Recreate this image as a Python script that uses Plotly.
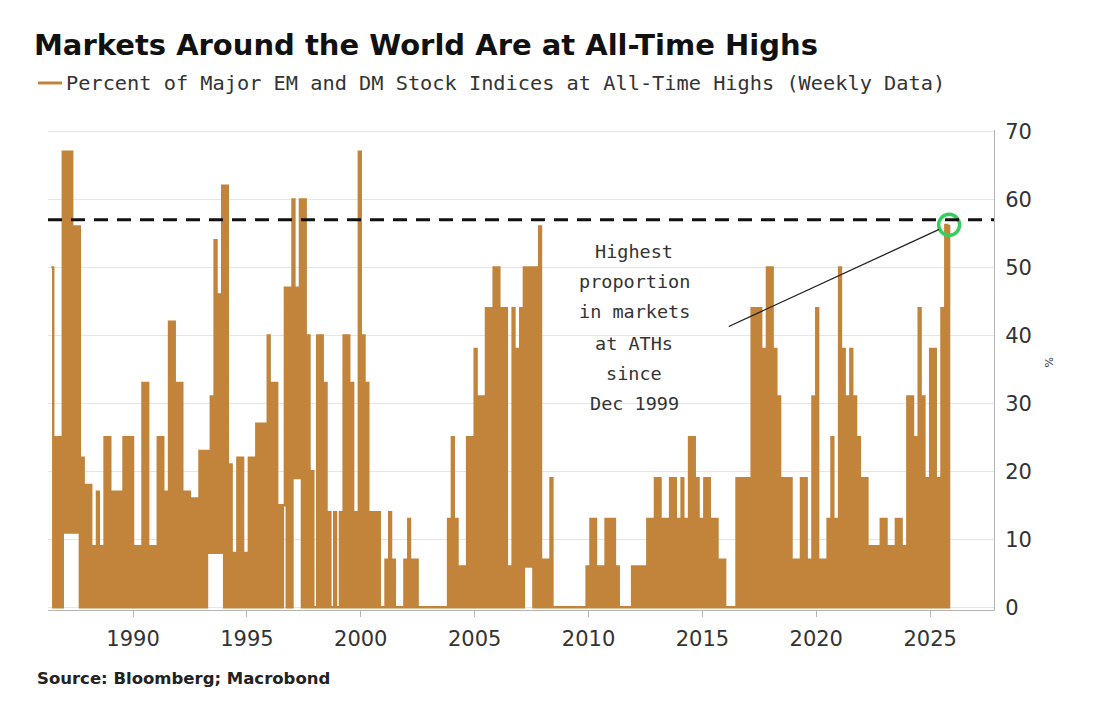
import datetime as dt
import plotly.graph_objects as go

# ---------------- data ----------------
first_year = 1986
first_month = 6  # the series starts in June 1986
# Percent of major EM and DM stock indices at all-time highs, one row per year (monthly samples)
pct_rows = [
    [50, 0, 25, 0, 25, 0, 67],                          # 1986 (Jun-Dec)
    [11, 67, 11, 67, 11, 56, 11, 56, 0, 22, 0, 18],     # 1987
    [0, 18, 0, 9, 0, 17, 0, 9, 0, 25, 0, 25],           # 1988
    [0, 17, 0, 17, 0, 17, 0, 25, 0, 25, 0, 25],         # 1989
    [0, 9, 0, 9, 0, 33, 0, 33, 0, 9, 0, 9],             # 1990
    [0, 25, 0, 25, 0, 17, 0, 42, 0, 42, 0, 33],         # 1991
    [0, 33, 0, 17, 0, 17, 0, 16, 0, 16, 0, 23],         # 1992
    [0, 23, 0, 23, 8, 31, 8, 54, 8, 46, 8, 62],         # 1993
    [0, 62, 0, 21, 0, 8, 0, 22, 0, 22, 0, 8],           # 1994
    [0, 22, 0, 22, 0, 27, 0, 27, 0, 27, 0, 40],         # 1995
    [0, 33, 0, 33, 0, 15, 0, 15, 47, 0, 47, 0],         # 1996
    [60, 19, 47, 19, 60, 0, 60, 0, 40, 0, 20, 0],       # 1997
    [0, 40, 0, 40, 0, 33, 0, 14, 0, 0, 14, 0],          # 1998
    [0, 14, 0, 40, 0, 40, 0, 33, 0, 14, 0, 67],         # 1999
    [0, 40, 0, 33, 0, 14, 0, 14, 0, 14, 0, 0],          # 2000
    [0, 7, 0, 14, 0, 7, 0, 0, 0, 0, 0, 7],              # 2001
    [0, 13, 0, 7, 0, 7, 0, 0, 0, 0, 0, 0],              # 2002
    [0, 0, 0, 0, 0, 0, 0, 0, 0, 0, 13, 0],              # 2003
    [25, 0, 13, 0, 6, 0, 6, 0, 25, 0, 25, 0],           # 2004
    [38, 0, 31, 0, 31, 0, 44, 0, 44, 0, 50, 0],         # 2005
    [50, 0, 44, 0, 44, 0, 6, 0, 44, 0, 38, 0],          # 2006
    [44, 0, 50, 6, 50, 6, 50, 0, 50, 0, 56, 0],         # 2007
    [7, 0, 7, 0, 19, 0, 0, 0, 0, 0, 0, 0],              # 2008
    [0, 0, 0, 0, 0, 0, 0, 0, 0, 0, 0, 6],               # 2009
    [0, 13, 0, 13, 0, 6, 0, 6, 0, 13, 0, 13],           # 2010
    [0, 13, 0, 6, 0, 0, 0, 0, 0, 0, 0, 6],              # 2011
    [0, 6, 0, 6, 0, 6, 0, 13, 0, 13, 0, 19],            # 2012
    [0, 19, 0, 13, 0, 13, 0, 19, 0, 19, 0, 13],         # 2013
    [0, 19, 0, 13, 0, 25, 0, 25, 0, 19, 0, 13],         # 2014
    [0, 19, 0, 19, 0, 13, 0, 13, 0, 7, 0, 7],           # 2015
    [0, 0, 0, 0, 0, 0, 19, 0, 19, 0, 19, 0],            # 2016
    [19, 0, 44, 0, 44, 0, 44, 0, 38, 0, 50, 0],         # 2017
    [50, 0, 38, 0, 31, 0, 19, 0, 19, 0, 19, 0],         # 2018
    [7, 0, 7, 0, 19, 0, 19, 0, 7, 0, 31, 0],            # 2019
    [44, 0, 7, 0, 7, 0, 13, 0, 25, 0, 13, 0],           # 2020
    [50, 0, 38, 0, 31, 0, 38, 0, 31, 0, 25, 0],         # 2021
    [19, 0, 19, 0, 9, 0, 9, 0, 9, 0, 13, 0],            # 2022
    [13, 0, 9, 0, 9, 0, 13, 0, 13, 0, 9, 0],            # 2023
    [31, 0, 31, 0, 25, 0, 44, 0, 31, 0, 19, 0],         # 2024
    [38, 0, 38, 0, 19, 0, 44, 0, 56.25, 0, 56.25],      # 2025 (Jan-Nov)
]
reference_level = 57          # dashed horizontal line
y_ticks = [0, 10, 20, 30, 40, 50, 60, 70]
x_tick_years = [1990, 1995, 2000, 2005, 2010, 2015, 2020, 2025]
note_lines = ["Highest", "proportion", "in markets", "at ATHs", "since", "Dec 1999"]

title_text = "Markets Around the World Are at All-Time Highs"
series_name = "Percent of Major EM and DM Stock Indices at All-Time Highs (Weekly Data)"
source_text = "Source: Bloomberg; Macrobond"

# ---------------- build ----------------
dates, values = [], []
for i, row in enumerate(pct_rows):
    yr = first_year + i
    m0 = first_month if i == 0 else 1
    for j, v in enumerate(row):
        dates.append(dt.date(yr, m0 + j, 1))
        values.append(v)

LINE = "#C2843A"
GREEN = "#35CF5E"
TXT = "#333333"
MONO = "DejaVu Sans Mono, Liberation Mono, monospace"
SANS = "DejaVu Sans, Verdana, sans-serif"

fig = go.Figure()
fig.add_trace(go.Scatter(
    x=dates, y=values, mode="lines", name=series_name,
    line=dict(color=LINE, width=2.4, shape="hv"),
    showlegend=False, hoverinfo="x+y",
))
fig.add_trace(go.Scatter(
    x=[dates[-1]], y=[values[-1]], mode="markers", showlegend=False,
    marker=dict(symbol="circle-open", size=21, color=GREEN, line=dict(color=GREEN, width=3.5)),
    cliponaxis=False,
))

fig.add_shape(type="line", xref="paper", x0=0, x1=1, yref="y",
              y0=reference_level, y1=reference_level,
              line=dict(color="#111111", width=3, dash="14px,9px"), layer="above")

# legend sample line (drawn like the source's legend key)
fig.add_shape(type="line", xref="paper", yref="paper", x0=-0.0106, x1=0.0148, y0=1.098, y1=1.098,
              line=dict(color=LINE, width=3))

annotations = [
    dict(text="<b>" + title_text + "</b>", xref="paper", yref="paper", x=-0.017, y=1.177,
         xanchor="left", yanchor="middle", showarrow=False,
         font=dict(family=SANS, size=29, color="#111111")),
    dict(text=series_name, xref="paper", yref="paper", x=0.0169, y=1.098,
         xanchor="left", yanchor="middle", showarrow=False,
         font=dict(family=MONO, size=20.3, color=TXT)),
    dict(text="<b>" + source_text + "</b>", xref="paper", yref="paper", x=-0.0135, y=-0.142,
         xanchor="left", yanchor="middle", showarrow=False,
         font=dict(family=SANS, size=16.5, color="#222222")),
    dict(text="%", xref="paper", yref="paper", x=1.059, y=0.515, textangle=-90,
         xanchor="center", yanchor="middle", showarrow=False,
         font=dict(family=SANS, size=11, color=TXT)),
    # pointer from the note to the latest reading
    dict(x=dates[-1], y=values[-1], xref="x", yref="y",
         ax=dt.date(2016, 2, 3), ay=41.2, axref="x", ayref="y",
         showarrow=True, arrowhead=0, arrowwidth=1.3, arrowcolor="#222222",
         standoff=11, text=""),
]
note_y = [52.3, 47.9, 43.5, 38.8, 34.4, 30.0]
for line_txt, yy in zip(note_lines, note_y):
    annotations.append(dict(text=line_txt, x=dt.date(2012, 1, 1), y=yy, xref="x", yref="y",
                            xanchor="center", yanchor="middle", showarrow=False,
                            font=dict(family=MONO, size=18.5, color=TXT)))

fig.update_layout(
    width=1100, height=721,
    margin=dict(l=48, r=106, t=130, b=111),
    paper_bgcolor="white", plot_bgcolor="white",
    annotations=annotations,
    font=dict(family=SANS, color=TXT),
)
fig.update_xaxes(
    type="date",
    range=[dt.date(1986, 4, 8), dt.date(2027, 10, 22)],
    tickvals=[dt.date(y, 1, 1) for y in x_tick_years],
    ticktext=[str(y) for y in x_tick_years],
    ticks="outside", ticklen=6, tickcolor="#b5b5b5",
    showline=True, linecolor="#b5b5b5", linewidth=1,
    showgrid=False, zeroline=False,
    tickfont=dict(family=SANS, size=21, color=TXT),
    ticklabelstandoff=4,
)
fig.update_yaxes(
    side="right", range=[-0.4, 70.2],
    tickvals=y_ticks, ticks="",
    showline=True, linecolor="#b5b5b5", linewidth=1,
    showgrid=True, gridcolor="#e6e6e6", gridwidth=1, zeroline=False,
    tickfont=dict(family=SANS, size=21, color=TXT),
    ticklabelstandoff=6,
)

fig.write_html("out.html", config={"displayModeBar": False},
               post_script="document.body.style.margin='0';")
